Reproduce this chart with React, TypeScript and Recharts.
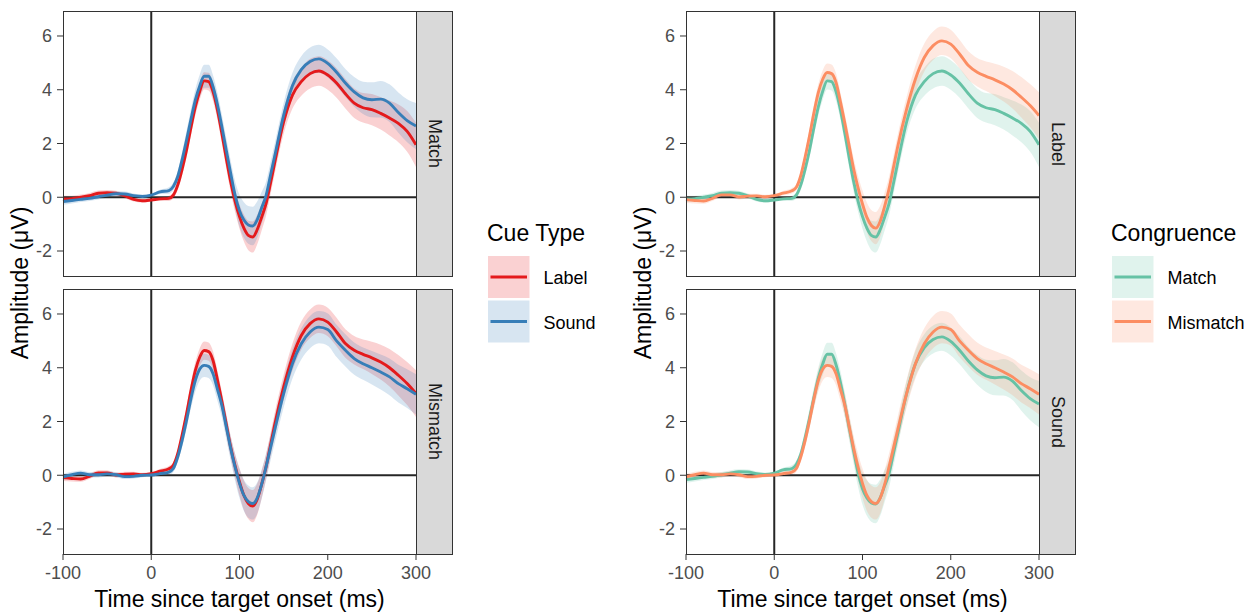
import { ComposedChart, Area, Line, XAxis, YAxis, ReferenceLine, Label } from 'recharts'

// time points in ms (denser around the fast components)
const times = [
  -100, -90, -80, -70, -60, -50, -40, -30, -20, -10, 0, 10, 20,
  25, 30, 35, 40, 45, 50, 55, 60, 65, 70, 75, 80, 85, 90, 95, 100, 105, 110, 115, 120, 125, 130, 135, 140,
  150, 160, 170, 180, 190, 200, 210, 220, 230, 240, 250, 260, 270, 280, 290, 300,
]

// mean amplitude (µV) per condition
const labelMatch = [
  -0.06, -0.05, 0.0, 0.06, 0.15, 0.17, 0.15, 0.05, -0.08, -0.13, -0.1, -0.06, -0.04,
  0.08, 0.45, 1.05, 1.76, 2.6, 3.37, 3.95, 4.33, 4.3, 3.93, 3.25, 2.38, 1.45, 0.58, -0.15, -0.72, -1.15, -1.42, -1.48, -1.21, -0.75, -0.25, 0.5, 1.3,
  2.8, 3.8, 4.3, 4.6, 4.7, 4.55, 4.25, 3.85, 3.5, 3.33, 3.26, 3.12, 2.95, 2.75, 2.45, 1.95,
]
const soundMatch = [
  -0.16, -0.12, -0.08, -0.04, 0.02, 0.08, 0.13, 0.12, 0.06, 0.03, 0.08, 0.2, 0.25,
  0.4, 0.77, 1.4, 2.13, 2.9, 3.62, 4.15, 4.5, 4.5, 4.11, 3.45, 2.63, 1.75, 0.89, 0.08, -0.5, -0.85, -1.03, -1.07, -0.84, -0.4, 0.05, 0.8, 1.55,
  3.05, 4.15, 4.75, 5.05, 5.15, 4.98, 4.65, 4.25, 3.92, 3.7, 3.63, 3.65, 3.5, 3.15, 2.85, 2.65,
]
const labelMismatch = [
  -0.09, -0.12, -0.14, -0.04, 0.09, 0.09, 0.01, 0.04, 0.05, 0.02, 0.06, 0.15, 0.24,
  0.37, 0.8, 1.5, 2.29, 3.15, 3.9, 4.4, 4.64, 4.6, 4.27, 3.55, 2.75, 1.9, 1.05, 0.35, -0.25, -0.75, -1.05, -1.15, -0.9, -0.35, 0.3, 1.1, 1.9,
  3.28, 4.4, 5.2, 5.64, 5.82, 5.7, 5.33, 4.9, 4.65, 4.5, 4.37, 4.21, 4.0, 3.72, 3.41, 3.04,
]
const soundMismatch = [
  -0.06, 0.02, 0.08, 0.02, 0.02, 0.05, 0.02, -0.05, -0.04, 0.0, 0.01, 0.06, 0.12,
  0.25, 0.68, 1.3, 2.04, 2.85, 3.53, 3.95, 4.09, 4.05, 3.78, 3.2, 2.6, 1.8, 1.0, 0.3, -0.3, -0.75, -0.98, -1.05, -0.85, -0.35, 0.3, 1.0, 1.7,
  3.04, 4.15, 4.89, 5.33, 5.51, 5.42, 5.0, 4.65, 4.34, 4.15, 4.0, 3.84, 3.66, 3.41, 3.22, 3.01,
]

// ribbon half-widths
const labelMatchCi = [
  0.12, 0.11, 0.1, 0.1, 0.1, 0.1, 0.09, 0.09, 0.08, 0.07, 0.06, 0.07, 0.1,
  0.12, 0.18, 0.24, 0.28, 0.3, 0.32, 0.32, 0.32, 0.33, 0.35, 0.37, 0.38, 0.38, 0.38, 0.4, 0.45, 0.5, 0.55, 0.58, 0.55, 0.5, 0.45, 0.42, 0.42,
  0.45, 0.5, 0.52, 0.55, 0.55, 0.55, 0.55, 0.55, 0.55, 0.55, 0.58, 0.6, 0.65, 0.7, 0.76, 0.82,
]
const soundMatchCi = [
  0.12, 0.11, 0.1, 0.1, 0.1, 0.1, 0.09, 0.09, 0.08, 0.07, 0.06, 0.08, 0.12,
  0.15, 0.2, 0.28, 0.34, 0.38, 0.4, 0.42, 0.43, 0.43, 0.43, 0.44, 0.45, 0.46, 0.48, 0.52, 0.6, 0.66, 0.7, 0.72, 0.68, 0.6, 0.52, 0.48, 0.46,
  0.46, 0.48, 0.5, 0.52, 0.52, 0.52, 0.52, 0.52, 0.55, 0.6, 0.65, 0.68, 0.7, 0.75, 0.8, 0.86,
]
const labelMismatchCi = [
  0.12, 0.11, 0.1, 0.1, 0.1, 0.1, 0.09, 0.09, 0.08, 0.07, 0.06, 0.08, 0.1,
  0.12, 0.17, 0.22, 0.26, 0.3, 0.32, 0.33, 0.34, 0.34, 0.34, 0.35, 0.36, 0.38, 0.4, 0.44, 0.5, 0.55, 0.58, 0.6, 0.58, 0.52, 0.46, 0.44, 0.44,
  0.46, 0.5, 0.52, 0.53, 0.53, 0.53, 0.53, 0.53, 0.53, 0.55, 0.6, 0.65, 0.7, 0.75, 0.8, 0.87,
]
const soundMismatchCi = [
  0.12, 0.11, 0.1, 0.1, 0.1, 0.1, 0.09, 0.09, 0.08, 0.07, 0.06, 0.08, 0.1,
  0.13, 0.18, 0.25, 0.3, 0.36, 0.4, 0.42, 0.43, 0.43, 0.43, 0.43, 0.44, 0.45, 0.46, 0.5, 0.55, 0.58, 0.6, 0.6, 0.58, 0.54, 0.5, 0.48, 0.5,
  0.52, 0.55, 0.58, 0.6, 0.6, 0.6, 0.6, 0.6, 0.6, 0.6, 0.62, 0.65, 0.68, 0.7, 0.72, 0.75,
]

const xTicks = [-100, 0, 100, 200, 300]
const yTicks = [-2, 0, 2, 4, 6]

const FONT = '"Liberation Sans", Arial, Helvetica, sans-serif'
const RED = '#E41A1C'
const BLUE = '#377EB8'
const GREEN = '#66C2A5'
const ORANGE = '#FC8D62'

const band = (m: number[], ci: number[], i: number) => [m[i] - ci[i], m[i] + ci[i]]

const rows = times.map((t, i) => ({
  t,
  labelMatch: labelMatch[i],
  labelMatchBand: band(labelMatch, labelMatchCi, i),
  soundMatch: soundMatch[i],
  soundMatchBand: band(soundMatch, soundMatchCi, i),
  labelMismatch: labelMismatch[i],
  labelMismatchBand: band(labelMismatch, labelMismatchCi, i),
  soundMismatch: soundMismatch[i],
  soundMismatchBand: band(soundMismatch, soundMismatchCi, i),
}))

type Series = { key: string; color: string }

type FacetProps = {
  left: number
  top: number
  height: number
  marginTop: number
  showX: boolean
  series: Series[]
  strip: string
}

function Facet({ left, top, height, marginTop, showX, series, strip }: FacetProps) {
  return (
    <div style={{ position: 'absolute', left, top, width: 452, height }}>
      <ComposedChart
        width={452}
        height={height}
        data={rows}
        margin={{ top: marginTop, right: 36, bottom: showX ? 0 : 4, left: 0 }}
      >
        <XAxis
          dataKey="t"
          type="number"
          domain={[-100, 300]}
          ticks={xTicks}
          interval={0}
          hide={!showX}
          height={61}
          tickSize={6}
          tickMargin={6}
          axisLine={false}
          tickLine={{ stroke: '#333333' }}
          tick={{ fill: '#4d4d4d', fontSize: 18 }}
        >
          {showX && (
            <Label
              value="Time since target onset (ms)"
              position="insideBottom"
              offset={8}
              fill="#000000"
              fontSize={23}
            />
          )}
        </XAxis>
        <YAxis
          type="number"
          domain={[-2.93, 6.93]}
          ticks={yTicks}
          interval={0}
          allowDataOverflow
          width={63}
          tickSize={6}
          tickMargin={5}
          axisLine={false}
          tickLine={{ stroke: '#333333' }}
          tick={{ fill: '#4d4d4d', fontSize: 18 }}
        />
        <ReferenceLine x={0} stroke="#262626" strokeWidth={2} />
        <ReferenceLine y={0} stroke="#262626" strokeWidth={2} />
        {series.map((s) => (
          <Area
            key={s.key + '-band'}
            dataKey={s.key + 'Band'}
            type="monotone"
            stroke="none"
            fill={s.color}
            fillOpacity={0.2}
            dot={false}
            activeDot={false}
            isAnimationActive={false}
          />
        ))}
        {series.map((s) => (
          <Line
            key={s.key}
            dataKey={s.key}
            type="monotone"
            stroke={s.color}
            strokeWidth={2.9}
            dot={false}
            activeDot={false}
            isAnimationActive={false}
          />
        ))}
      </ComposedChart>
      {/* panel border */}
      <div
        style={{
          position: 'absolute',
          left: 63,
          top: marginTop,
          width: 354,
          height: 266,
          border: '1px solid #333333',
          boxSizing: 'border-box',
          pointerEvents: 'none',
        }}
      />
      {/* facet strip */}
      <div
        style={{
          position: 'absolute',
          left: 416,
          top: marginTop,
          width: 37,
          height: 266,
          background: '#d9d9d9',
          border: '1px solid #333333',
          boxSizing: 'border-box',
          display: 'flex',
          alignItems: 'center',
          justifyContent: 'center',
        }}
      >
        <span style={{ writingMode: 'vertical-rl', fontSize: 18, color: '#1a1a1a' }}>{strip}</span>
      </div>
    </div>
  )
}

type LegendProps = {
  left: number
  title: string
  items: { label: string; color: string }[]
}

function LegendBlock({ left, title, items }: LegendProps) {
  return (
    <svg style={{ position: 'absolute', left, top: 215 }} width={150} height={135}>
      <text x={7} y={26} fontSize={23} fill="#000">
        {title}
      </text>
      {items.map((it, i) => {
        const y = 41 + i * 44.5
        return (
          <g key={it.label}>
            <rect x={8} y={y} width={41.5} height={42} fill={it.color} fillOpacity={0.2} />
            <line x1={10.5} x2={47} y1={y + 21} y2={y + 21} stroke={it.color} strokeWidth={2.9} />
            <text x={63.5} y={y + 28} fontSize={18} fill="#000">
              {it.label}
            </text>
          </g>
        )
      })}
    </svg>
  )
}

function YTitle({ x }: { x: number }) {
  return (
    <div
      style={{
        position: 'absolute',
        left: x,
        top: 282.5,
        transform: 'translate(-50%, -50%) rotate(-90deg)',
        whiteSpace: 'nowrap',
        fontSize: 23,
        color: '#000',
      }}
    >
      Amplitude (μV)
    </div>
  )
}

export default function App() {
  return (
    <div
      style={{
        position: 'absolute',
        left: 0,
        top: 0,
        width: 1255,
        height: 615,
        background: '#fff',
        fontFamily: FONT,
        overflow: 'hidden',
      }}
    >
      <YTitle x={20} />
      <Facet
        left={0}
        top={0}
        height={280}
        marginTop={11}
        showX={false}
        strip="Match"
        series={[
          { key: 'labelMatch', color: RED },
          { key: 'soundMatch', color: BLUE },
        ]}
      />
      <Facet
        left={0}
        top={280}
        height={335}
        marginTop={9}
        showX
        strip="Mismatch"
        series={[
          { key: 'labelMismatch', color: RED },
          { key: 'soundMismatch', color: BLUE },
        ]}
      />
      <LegendBlock
        left={480}
        title="Cue Type"
        items={[
          { label: 'Label', color: RED },
          { label: 'Sound', color: BLUE },
        ]}
      />

      <YTitle x={643} />
      <Facet
        left={623}
        top={0}
        height={280}
        marginTop={11}
        showX={false}
        strip="Label"
        series={[
          { key: 'labelMatch', color: GREEN },
          { key: 'labelMismatch', color: ORANGE },
        ]}
      />
      <Facet
        left={623}
        top={280}
        height={335}
        marginTop={9}
        showX
        strip="Sound"
        series={[
          { key: 'soundMatch', color: GREEN },
          { key: 'soundMismatch', color: ORANGE },
        ]}
      />
      <LegendBlock
        left={1104}
        title="Congruence"
        items={[
          { label: 'Match', color: GREEN },
          { label: 'Mismatch', color: ORANGE },
        ]}
      />
    </div>
  )
}
